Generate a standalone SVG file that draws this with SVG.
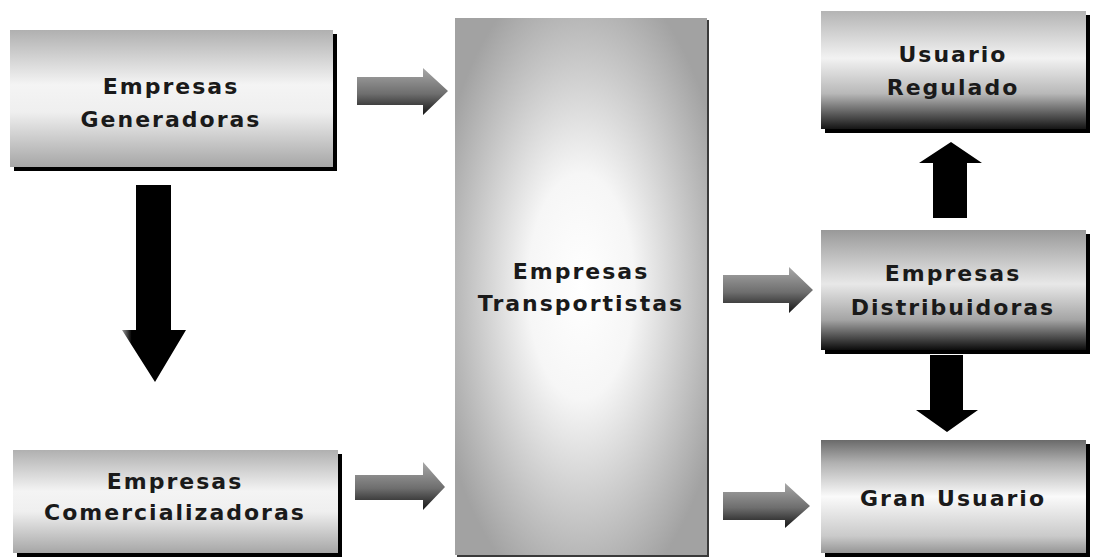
<svg xmlns="http://www.w3.org/2000/svg" width="1096" height="560" viewBox="0 0 1096 560">
  <style>
    .lbl { font-family: "DejaVu Sans", Verdana, sans-serif; font-weight: bold; font-size: 22px; letter-spacing: 2px; fill: #1a1a1a; text-anchor: middle; }
    .shadow { fill: #000; }
    .solid { fill: #000; }
    .flat { fill: url(#gArrow); }
  </style>
  <defs>
    <!-- left-column boxes: grey top and bottom, pale band in the middle -->
    <linearGradient id="gLeft" x1="0" y1="0" x2="0" y2="1">
      <stop offset="0" stop-color="#b0b0b0"/>
      <stop offset="0.4" stop-color="#f4f4f4"/>
      <stop offset="0.6" stop-color="#efefef"/>
      <stop offset="1" stop-color="#a6a6a6"/>
    </linearGradient>
    <!-- tall central box: bright centre fading out to grey -->
    <radialGradient id="gCenter" cx="0.5" cy="0.5" r="0.6">
      <stop offset="0" stop-color="#ffffff"/>
      <stop offset="0.35" stop-color="#f6f6f6"/>
      <stop offset="1" stop-color="#a2a2a2"/>
    </radialGradient>
    <!-- right-column boxes -->
    <linearGradient id="gReg" x1="0" y1="0" x2="0" y2="1">
      <stop offset="0" stop-color="#b4b4b4"/>
      <stop offset="0.4" stop-color="#f2f2f2"/>
      <stop offset="0.7" stop-color="#b8b8b8"/>
      <stop offset="1" stop-color="#151515"/>
    </linearGradient>
    <linearGradient id="gDist" x1="0" y1="0" x2="0" y2="1">
      <stop offset="0" stop-color="#999999"/>
      <stop offset="0.45" stop-color="#e8e8e8"/>
      <stop offset="0.75" stop-color="#a4a4a4"/>
      <stop offset="1" stop-color="#0c0c0c"/>
    </linearGradient>
    <linearGradient id="gGran" x1="0" y1="0" x2="0" y2="1">
      <stop offset="0" stop-color="#6a6a6a"/>
      <stop offset="0.2" stop-color="#b0b0b0"/>
      <stop offset="0.5" stop-color="#fafafa"/>
      <stop offset="0.85" stop-color="#cacaca"/>
      <stop offset="1" stop-color="#959595"/>
    </linearGradient>
    <!-- shaded block arrows -->
    <linearGradient id="gArrow" x1="0" y1="0" x2="0" y2="1">
      <stop offset="0" stop-color="#a8a8a8"/>
      <stop offset="0.55" stop-color="#6e6e6e"/>
      <stop offset="1" stop-color="#151515"/>
    </linearGradient>
    <linearGradient id="gShaft" x1="0" y1="0" x2="1" y2="0">
      <stop offset="0" stop-color="#9a9a9a"/>
      <stop offset="0.15" stop-color="#000"/>
      <stop offset="1" stop-color="#000"/>
    </linearGradient>
  </defs>

  <rect width="1096" height="560" fill="#ffffff"/>

  <!-- connectors -->
  <g id="connectors">
    <!-- Generadoras down to Comercializadoras -->
    <path fill="url(#gShaft)" d="M136,185 H171 V330 H186 L155,382 L122,330 H136 Z"/>
    <!-- Generadoras to Transportistas -->
    <path class="flat" d="M357,77 H423 V68 L448,91 L423,115 V105 H357 Z"/>
    <!-- Comercializadoras to Transportistas -->
    <path class="flat" d="M355,475 H423 V462 L445,487 L423,510 V500 H355 Z"/>
    <!-- Transportistas to Distribuidoras -->
    <path class="flat" d="M723,275 H789 V267 L813,290 L789,313 V303 H723 Z"/>
    <!-- Transportistas to Gran Usuario -->
    <path class="flat" d="M723,492 H785 V483 L810,506 L785,528 V520 H723 Z"/>
    <!-- Distribuidoras up to Usuario Regulado -->
    <path class="solid" d="M933,218 V163 H919 L951,142 L982,163 H967 V218 Z"/>
    <!-- Distribuidoras down to Gran Usuario -->
    <path class="solid" d="M930,355 H963 V410 H978 L947,432 L916,410 H930 Z"/>
  </g>

  <g id="generadoras">
    <rect class="shadow" x="14" y="34" width="323" height="137"/>
    <rect x="10" y="30" width="323" height="137" fill="url(#gLeft)"/>
    <text class="lbl" x="171" y="94">Empresas</text>
    <text class="lbl" x="171" y="127">Generadoras</text>
  </g>

  <g id="comercializadoras">
    <rect class="shadow" x="17" y="454" width="325" height="103"/>
    <rect x="13" y="450" width="325" height="103" fill="url(#gLeft)"/>
    <text class="lbl" x="175" y="489">Empresas</text>
    <text class="lbl" x="175" y="520">Comercializadoras</text>
  </g>

  <g id="transportistas">
    <rect fill="#3a3a3a" x="457" y="20" width="252" height="537"/>
    <rect x="455" y="18" width="252" height="537" fill="url(#gCenter)"/>
    <text class="lbl" x="581" y="279">Empresas</text>
    <text class="lbl" x="581" y="311">Transportistas</text>
  </g>

  <g id="usuario-regulado">
    <rect class="shadow" x="825" y="15" width="265" height="118"/>
    <rect x="821" y="11" width="265" height="118" fill="url(#gReg)"/>
    <text class="lbl" x="953" y="62">Usuario</text>
    <text class="lbl" x="953" y="95">Regulado</text>
  </g>

  <g id="distribuidoras">
    <rect class="shadow" x="825" y="234" width="265" height="120"/>
    <rect x="821" y="230" width="265" height="120" fill="url(#gDist)"/>
    <text class="lbl" x="953" y="281">Empresas</text>
    <text class="lbl" x="953" y="315">Distribuidoras</text>
  </g>

  <g id="gran-usuario">
    <rect class="shadow" x="825" y="444" width="265" height="113"/>
    <rect x="821" y="440" width="265" height="113" fill="url(#gGran)"/>
    <text class="lbl" x="953" y="506">Gran Usuario</text>
  </g>
</svg>
